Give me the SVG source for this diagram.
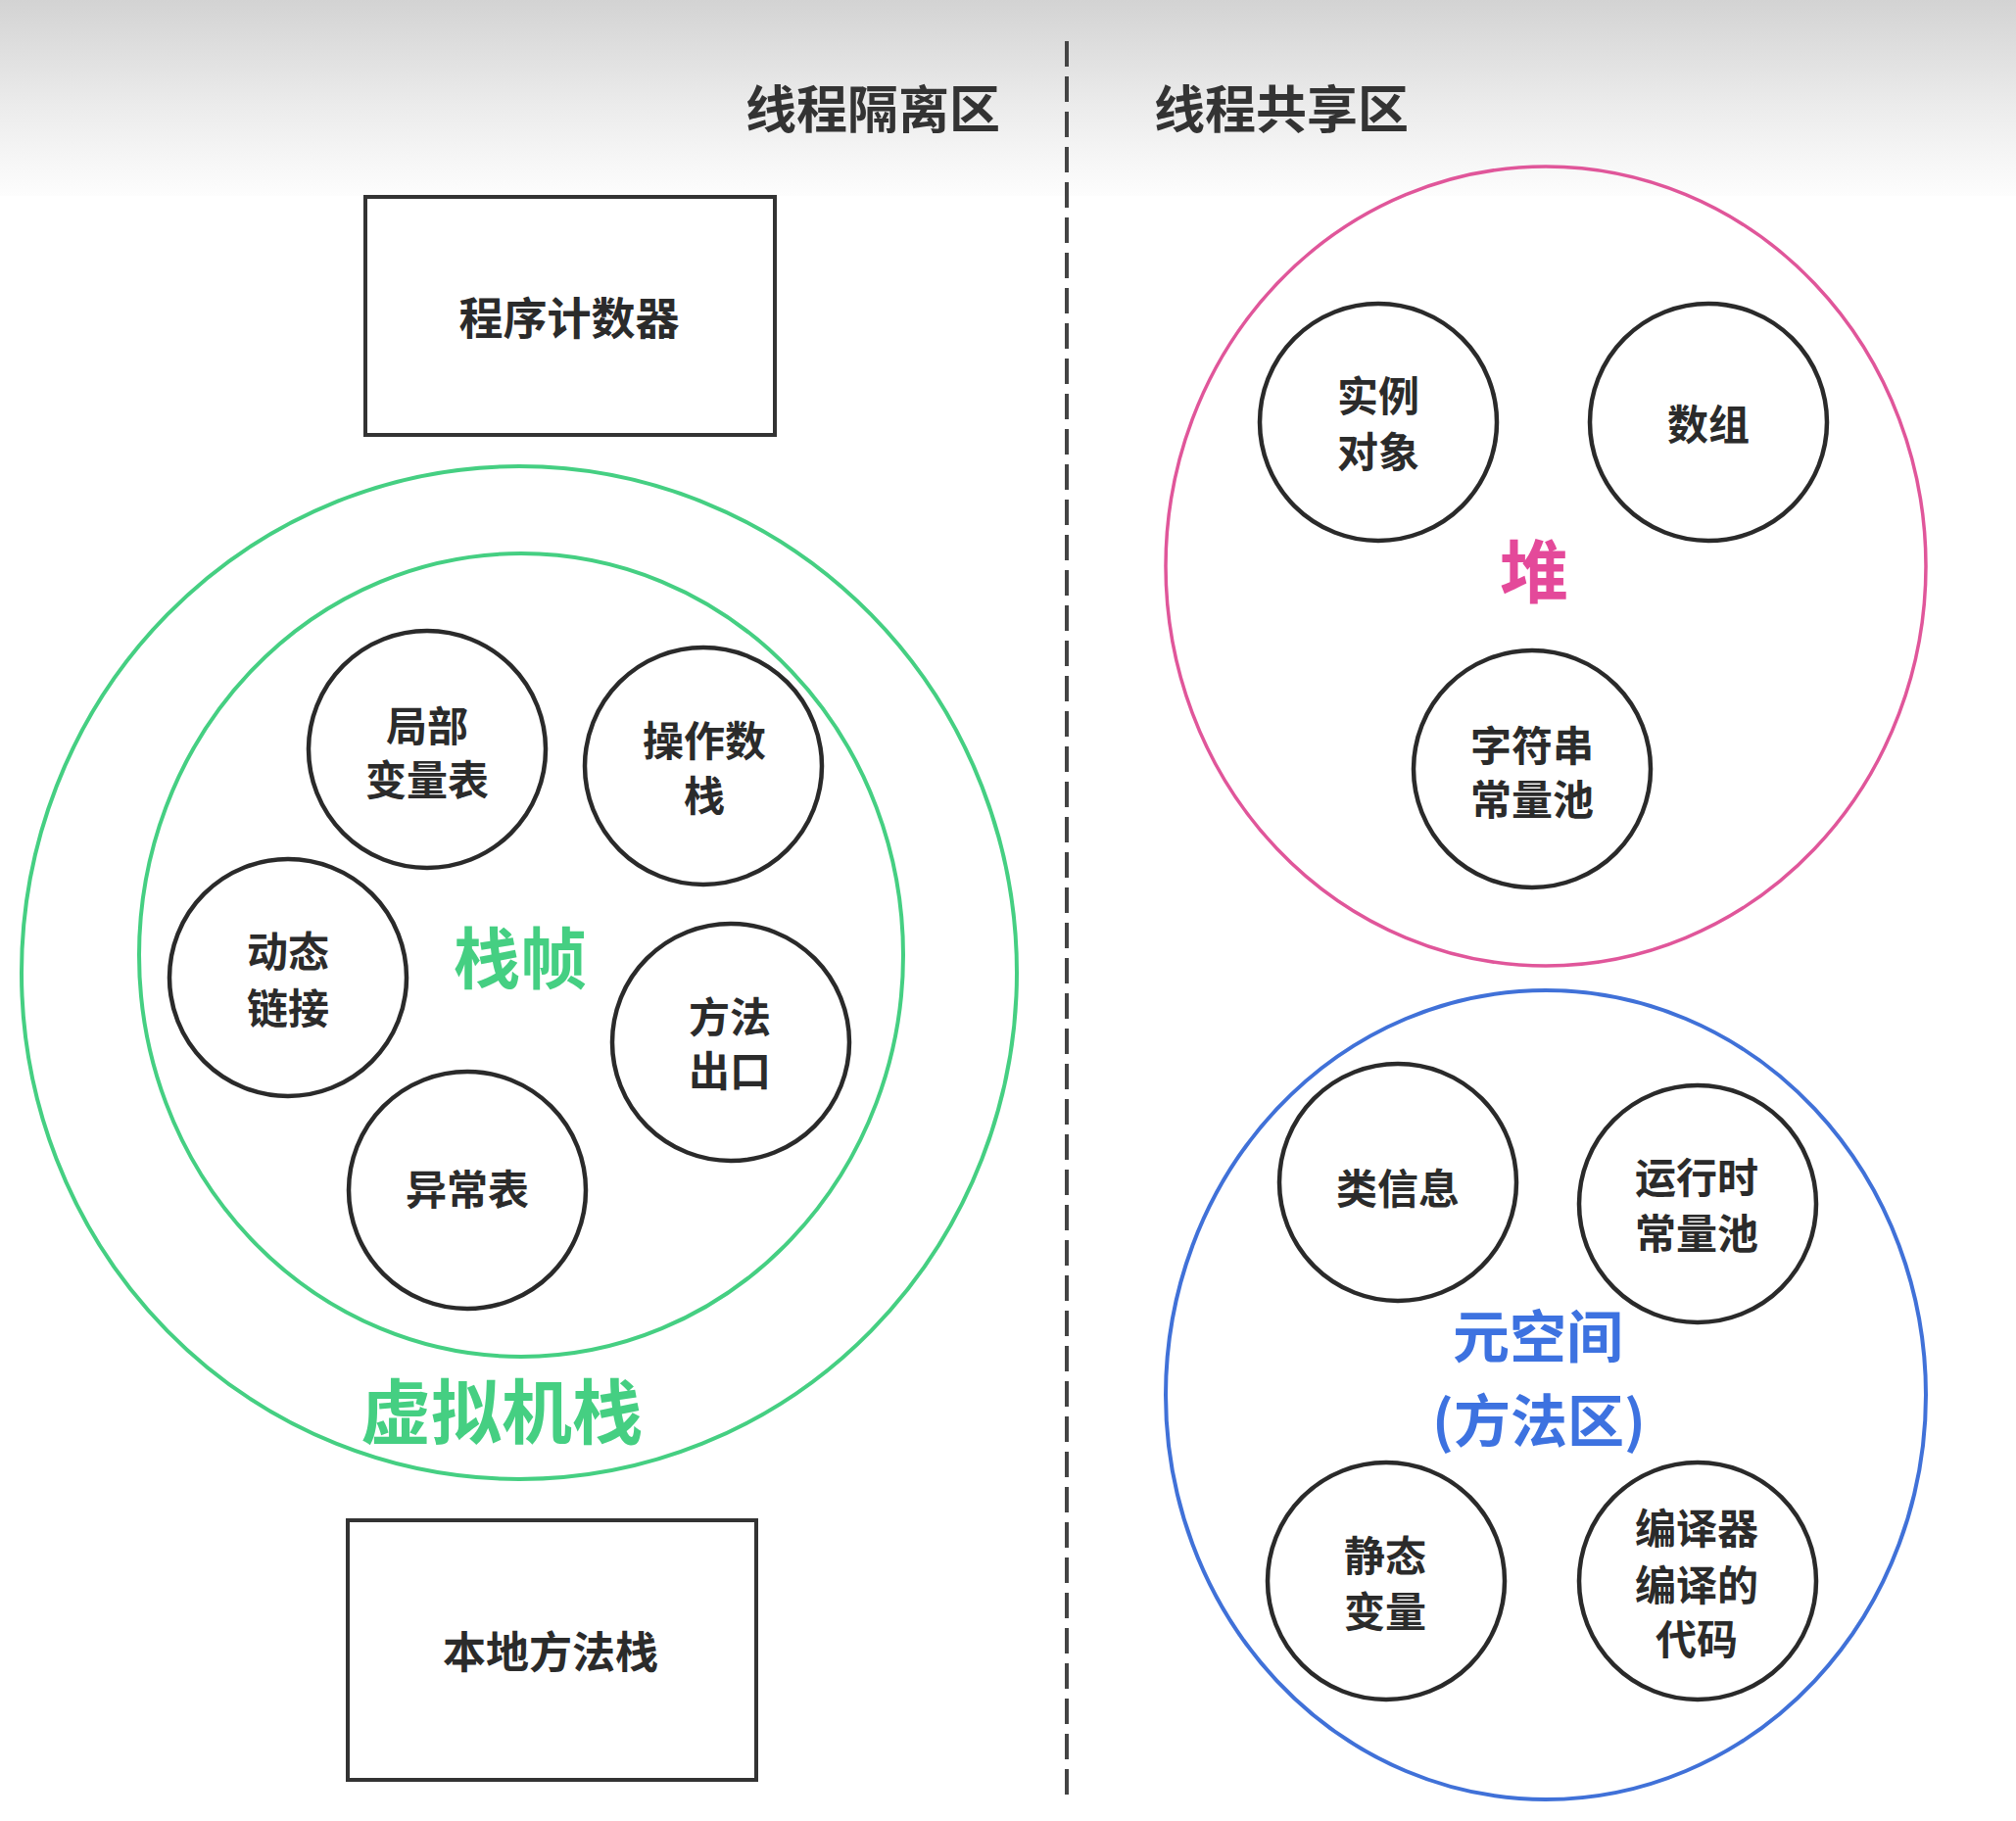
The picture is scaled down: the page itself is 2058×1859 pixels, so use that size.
<svg xmlns="http://www.w3.org/2000/svg" width="2058" height="1859" viewBox="0 0 2058 1859">
  <defs>
    <linearGradient id="topfade" x1="0" y1="0" x2="0" y2="1">
      <stop offset="0" stop-color="#d3d3d3"/>
      <stop offset="0.55" stop-color="#ececec"/>
      <stop offset="1" stop-color="#fdfdfd"/>
    </linearGradient>
    <style>
      text { font-family: "Noto Sans CJK SC", "Noto Sans", "Liberation Sans", sans-serif; font-weight: 700; text-anchor: middle; dominant-baseline: central; }
      .title { font-size: 52px; fill: #333333; }
      .lbl { font-size: 42px; fill: #2b2b2b; }
      .box { fill: #ffffff; stroke: #333333; stroke-width: 4; }
      .item { fill: #ffffff; stroke: #2a2a2a; stroke-width: 4.5; }
      .green { fill: none; stroke: #45cf82; stroke-width: 4; }
      .pink { fill: none; stroke: #e0569a; stroke-width: 3.5; }
      .blue { fill: none; stroke: #4071d8; stroke-width: 4; }
      .divider { stroke: #444444; stroke-width: 4; stroke-dasharray: 26 10; fill: none; }
    </style>
  </defs>

  <rect x="0" y="0" width="2058" height="1859" fill="#ffffff"/>
  <rect x="0" y="0" width="2058" height="200" fill="url(#topfade)"/>

  <g id="headers">
    <text class="title" x="891" y="108">线程隔离区</text>
    <text class="title" x="1308" y="108">线程共享区</text>
  </g>

  <g id="connectors">
    <line class="divider" x1="1089" y1="42" x2="1089" y2="1832"/>
  </g>

  <g id="program-counter">
    <rect class="box" x="373" y="201" width="418" height="243"/>
    <text class="lbl" x="581" y="322" style="font-size:45px">程序计数器</text>
  </g>

  <g id="vm-stack">
    <ellipse class="green" cx="530" cy="993" rx="508" ry="517"/>
    <text x="512" y="1436" style="font-size:72px;fill:#45cf82">虚拟机栈</text>
  </g>

  <g id="stack-frame">
    <ellipse class="green" cx="532" cy="975" rx="390" ry="410"/>
    <text x="531" y="974" style="font-size:68px;fill:#45cf82">栈帧</text>
  </g>

  <g id="local-vars">
    <circle class="item" cx="436" cy="765" r="121"/>
    <text class="lbl" x="436" y="738">局部</text>
    <text class="lbl" x="436" y="793">变量表</text>
  </g>

  <g id="operand-stack">
    <circle class="item" cx="718" cy="782" r="121"/>
    <text class="lbl" x="719" y="753">操作数</text>
    <text class="lbl" x="719" y="809">栈</text>
  </g>

  <g id="dynamic-link">
    <circle class="item" cx="294" cy="998" r="121"/>
    <text class="lbl" x="294" y="968">动态</text>
    <text class="lbl" x="294" y="1026">链接</text>
  </g>

  <g id="method-exit">
    <circle class="item" cx="746" cy="1064" r="121"/>
    <text class="lbl" x="745" y="1035">方法</text>
    <text class="lbl" x="745" y="1090">出口</text>
  </g>

  <g id="exception-table">
    <circle class="item" cx="477" cy="1215" r="121"/>
    <text class="lbl" x="477" y="1211">异常表</text>
  </g>

  <g id="native-stack">
    <rect class="box" x="355" y="1552" width="417" height="265"/>
    <text class="lbl" x="562" y="1684" style="font-size:44px">本地方法栈</text>
  </g>

  <g id="heap">
    <ellipse class="pink" cx="1578" cy="578" rx="388" ry="408"/>
    <text x="1566" y="579" style="font-size:70px;fill:#e4499a">堆</text>
  </g>

  <g id="instance-objects">
    <circle class="item" cx="1407" cy="431" r="121"/>
    <text class="lbl" x="1407" y="401">实例</text>
    <text class="lbl" x="1407" y="458">对象</text>
  </g>

  <g id="arrays">
    <circle class="item" cx="1744" cy="431" r="121"/>
    <text class="lbl" x="1744" y="430">数组</text>
  </g>

  <g id="string-pool">
    <circle class="item" cx="1564" cy="785" r="121"/>
    <text class="lbl" x="1564" y="758">字符串</text>
    <text class="lbl" x="1564" y="813">常量池</text>
  </g>

  <g id="metaspace">
    <ellipse class="blue" cx="1578" cy="1424" rx="388" ry="413"/>
    <text x="1570" y="1361" style="font-size:58px;fill:#3d72e0">元空间</text>
    <text x="1571" y="1447" style="font-size:58px;fill:#3d72e0">(方法区)</text>
  </g>

  <g id="class-info">
    <circle class="item" cx="1427" cy="1207" r="121"/>
    <text class="lbl" x="1427" y="1210">类信息</text>
  </g>

  <g id="runtime-constant-pool">
    <circle class="item" cx="1733" cy="1229" r="121"/>
    <text class="lbl" x="1732" y="1199">运行时</text>
    <text class="lbl" x="1732" y="1256">常量池</text>
  </g>

  <g id="static-vars">
    <circle class="item" cx="1415" cy="1614" r="121"/>
    <text class="lbl" x="1414" y="1585">静态</text>
    <text class="lbl" x="1414" y="1642">变量</text>
  </g>

  <g id="compiled-code">
    <circle class="item" cx="1733" cy="1614" r="121"/>
    <text class="lbl" x="1732" y="1557">编译器</text>
    <text class="lbl" x="1732" y="1615">编译的</text>
    <text class="lbl" x="1732" y="1670">代码</text>
  </g>
</svg>
